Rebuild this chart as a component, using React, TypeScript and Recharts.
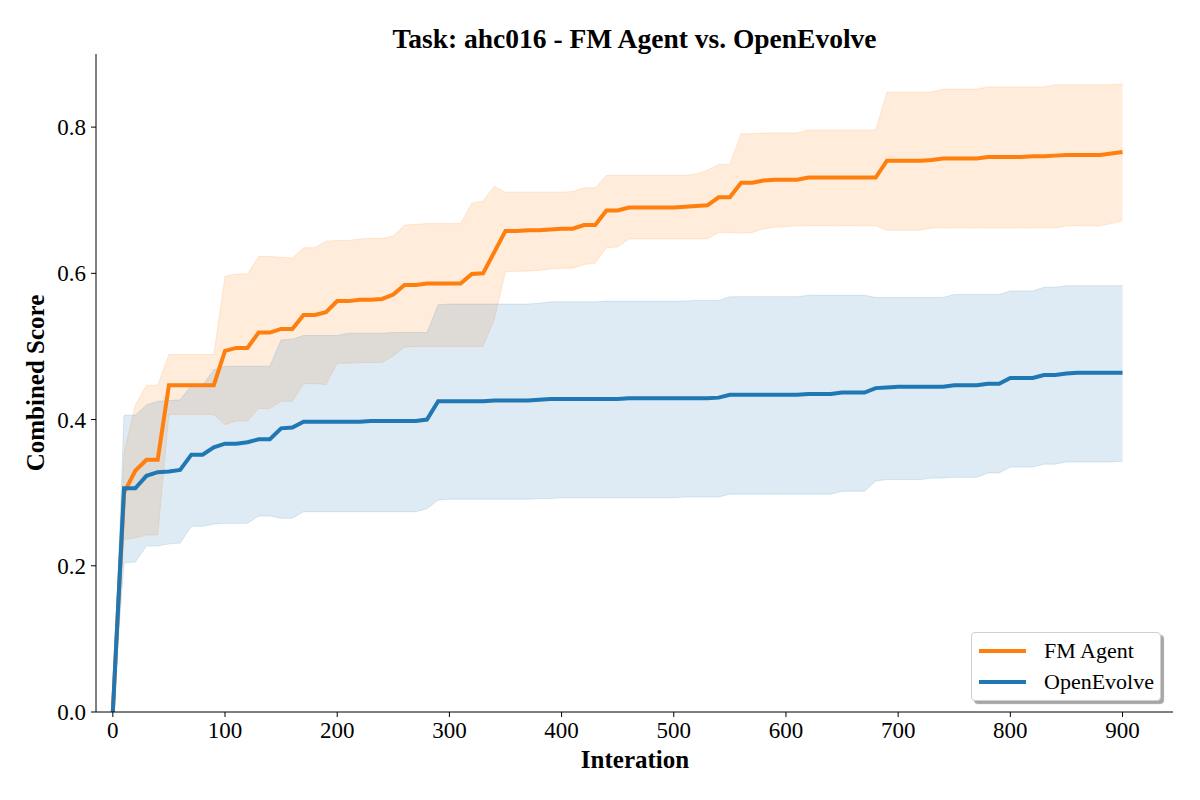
import React from 'react';
import { ComposedChart, Area, Line, XAxis, YAxis, Legend, Label } from 'recharts';

const iterations = [
  0, 10, 20, 30, 40, 50, 60, 70, 80, 90,
  100, 110, 120, 130, 140, 150, 160, 170, 180, 190,
  200, 210, 220, 230, 240, 250, 260, 270, 280, 290,
  300, 310, 320, 330, 340, 350, 360, 370, 380, 390,
  400, 410, 420, 430, 440, 450, 460, 470, 480, 490,
  500, 510, 520, 530, 540, 550, 560, 570, 580, 590,
  600, 610, 620, 630, 640, 650, 660, 670, 680, 690,
  700, 710, 720, 730, 740, 750, 760, 770, 780, 790,
  800, 810, 820, 830, 840, 850, 860, 870, 880, 890,
  900,
];

// FM Agent: mean and band
const fmMean = [
  0, 0.300, 0.330, 0.345, 0.345, 0.447, 0.447, 0.447, 0.447, 0.447,
  0.494, 0.498, 0.498, 0.519, 0.519, 0.524, 0.524, 0.543, 0.543, 0.547,
  0.562, 0.562, 0.564, 0.564, 0.565, 0.571, 0.584, 0.584, 0.586, 0.586,
  0.586, 0.586, 0.599, 0.600, 0.629, 0.658, 0.658, 0.659, 0.659, 0.660,
  0.661, 0.661, 0.666, 0.666, 0.686, 0.686, 0.690, 0.690, 0.690, 0.690,
  0.690, 0.691, 0.692, 0.693, 0.704, 0.704, 0.724, 0.724, 0.727, 0.728,
  0.728, 0.728, 0.731, 0.731, 0.731, 0.731, 0.731, 0.731, 0.731, 0.754,
  0.754, 0.754, 0.754, 0.755, 0.757, 0.757, 0.757, 0.757, 0.759, 0.759,
  0.759, 0.759, 0.760, 0.760, 0.761, 0.762, 0.762, 0.762, 0.762, 0.764,
  0.766,
];
const fmHigh = [
  0, 0.355, 0.420, 0.447, 0.447, 0.489, 0.489, 0.489, 0.489, 0.489,
  0.596, 0.599, 0.599, 0.623, 0.623, 0.622, 0.621, 0.635, 0.635, 0.644,
  0.645, 0.645, 0.647, 0.648, 0.648, 0.651, 0.666, 0.667, 0.668, 0.668,
  0.668, 0.668, 0.696, 0.699, 0.719, 0.711, 0.711, 0.711, 0.711, 0.711,
  0.711, 0.712, 0.717, 0.717, 0.734, 0.734, 0.734, 0.734, 0.734, 0.734,
  0.734, 0.734, 0.736, 0.741, 0.749, 0.749, 0.791, 0.791, 0.792, 0.792,
  0.792, 0.792, 0.796, 0.796, 0.796, 0.796, 0.796, 0.796, 0.796, 0.848,
  0.848, 0.848, 0.848, 0.848, 0.852, 0.852, 0.852, 0.852, 0.855, 0.855,
  0.855, 0.855, 0.855, 0.855, 0.858, 0.858, 0.858, 0.858, 0.858, 0.858,
  0.859,
];
const fmLow = [
  0, 0.236, 0.238, 0.242, 0.242, 0.407, 0.407, 0.407, 0.407, 0.407,
  0.393, 0.398, 0.398, 0.415, 0.415, 0.425, 0.425, 0.449, 0.449, 0.448,
  0.477, 0.477, 0.478, 0.478, 0.478, 0.487, 0.499, 0.500, 0.500, 0.500,
  0.500, 0.500, 0.500, 0.500, 0.537, 0.602, 0.603, 0.603, 0.604, 0.606,
  0.607, 0.607, 0.612, 0.614, 0.635, 0.636, 0.647, 0.647, 0.647, 0.647,
  0.647, 0.647, 0.647, 0.647, 0.656, 0.656, 0.655, 0.656, 0.661, 0.663,
  0.664, 0.665, 0.665, 0.665, 0.665, 0.665, 0.665, 0.665, 0.665, 0.659,
  0.659, 0.659, 0.659, 0.662, 0.662, 0.662, 0.662, 0.662, 0.662, 0.662,
  0.662, 0.662, 0.662, 0.662, 0.662, 0.665, 0.665, 0.665, 0.665, 0.668,
  0.672,
];

// OpenEvolve: mean and band
const oeMean = [
  0, 0.306, 0.306, 0.323, 0.328, 0.329, 0.331, 0.352, 0.352, 0.362,
  0.367, 0.367, 0.369, 0.373, 0.373, 0.388, 0.389, 0.397, 0.397, 0.397,
  0.397, 0.397, 0.397, 0.398, 0.398, 0.398, 0.398, 0.398, 0.400, 0.425,
  0.425, 0.425, 0.425, 0.425, 0.426, 0.426, 0.426, 0.426, 0.427, 0.428,
  0.428, 0.428, 0.428, 0.428, 0.428, 0.428, 0.429, 0.429, 0.429, 0.429,
  0.429, 0.429, 0.429, 0.429, 0.430, 0.434, 0.434, 0.434, 0.434, 0.434,
  0.434, 0.434, 0.435, 0.435, 0.435, 0.437, 0.437, 0.437, 0.443, 0.444,
  0.445, 0.445, 0.445, 0.445, 0.445, 0.447, 0.447, 0.447, 0.449, 0.449,
  0.457, 0.457, 0.457, 0.461, 0.461, 0.463, 0.464, 0.464, 0.464, 0.464,
  0.464,
];
const oeHigh = [
  0, 0.406, 0.406, 0.420, 0.425, 0.426, 0.427, 0.447, 0.447, 0.468,
  0.473, 0.473, 0.473, 0.473, 0.473, 0.509, 0.510, 0.515, 0.515, 0.515,
  0.515, 0.518, 0.518, 0.518, 0.518, 0.519, 0.519, 0.519, 0.519, 0.557,
  0.558, 0.558, 0.558, 0.558, 0.558, 0.558, 0.558, 0.558, 0.559, 0.561,
  0.561, 0.561, 0.561, 0.561, 0.562, 0.562, 0.562, 0.562, 0.562, 0.562,
  0.562, 0.562, 0.563, 0.563, 0.563, 0.568, 0.568, 0.568, 0.568, 0.568,
  0.568, 0.568, 0.570, 0.570, 0.570, 0.570, 0.570, 0.570, 0.567, 0.567,
  0.567, 0.567, 0.567, 0.567, 0.567, 0.571, 0.571, 0.571, 0.571, 0.571,
  0.576, 0.576, 0.576, 0.581, 0.581, 0.583, 0.583, 0.583, 0.583, 0.583,
  0.583,
];
const oeLow = [
  0, 0.204, 0.205, 0.227, 0.227, 0.230, 0.231, 0.254, 0.254, 0.257,
  0.258, 0.258, 0.258, 0.268, 0.268, 0.265, 0.265, 0.274, 0.274, 0.274,
  0.274, 0.274, 0.274, 0.274, 0.274, 0.274, 0.274, 0.274, 0.278, 0.290,
  0.291, 0.291, 0.291, 0.291, 0.291, 0.291, 0.291, 0.291, 0.292, 0.292,
  0.293, 0.293, 0.293, 0.293, 0.293, 0.293, 0.293, 0.293, 0.293, 0.293,
  0.293, 0.294, 0.294, 0.294, 0.294, 0.298, 0.298, 0.298, 0.298, 0.298,
  0.298, 0.298, 0.298, 0.298, 0.298, 0.302, 0.302, 0.302, 0.316, 0.318,
  0.318, 0.318, 0.318, 0.320, 0.320, 0.321, 0.321, 0.321, 0.327, 0.327,
  0.335, 0.335, 0.335, 0.339, 0.339, 0.342, 0.342, 0.342, 0.342, 0.342,
  0.343,
];

const xTicks = [0, 100, 200, 300, 400, 500, 600, 700, 800, 900];
const yTicks = [0, 0.2, 0.4, 0.6, 0.8];

const ORANGE = '#ff7f0e';
const BLUE = '#1f77b4';
const FONT = '"Liberation Serif", "Times New Roman", serif';

const data = iterations.map((it, i) => ({
  iteration: it,
  fmMean: fmMean[i],
  fmBand: [fmLow[i], fmHigh[i]],
  oeMean: oeMean[i],
  oeBand: [oeLow[i], oeHigh[i]],
}));

const legendItems = [
  { name: 'FM Agent', color: ORANGE },
  { name: 'OpenEvolve', color: BLUE },
];

const LegendBox = () => (
  <div
    style={{
      width: 190,
      height: 69,
      background: '#fff',
      border: '1px solid #d0d0d0',
      borderRadius: 4,
      boxShadow: '3px 3px 1px rgba(0,0,0,0.35)',
      boxSizing: 'border-box',
      padding: '2px 0 0 7px',
      fontFamily: FONT,
      fontSize: 22,
      color: '#000',
    }}
  >
    {legendItems.map((item) => (
      <div key={item.name} style={{ display: 'flex', alignItems: 'center', height: 31 }}>
        <span style={{ display: 'inline-block', width: 47, height: 4, background: item.color }} />
        <span style={{ marginLeft: 18 }}>{item.name}</span>
      </div>
    ))}
  </div>
);

const App: React.FC = () => {
  const tickStyle = { fontSize: 23, fill: '#000', fontFamily: FONT };
  return (
    <div style={{ position: 'absolute', left: 0, top: 0, width: 1200, height: 800, background: '#fff' }}>
      <div
        style={{
          position: 'absolute',
          left: 96,
          top: 25,
          width: 1077,
          textAlign: 'center',
          fontFamily: FONT,
          fontWeight: 'bold',
          fontSize: 27.5,
          lineHeight: '28px',
          color: '#000',
        }}
      >
        Task: ahc016 - FM Agent vs. OpenEvolve
      </div>
      <ComposedChart width={1200} height={800} data={data} margin={{ top: 54, right: 27, bottom: 0, left: 0 }}>
        <XAxis
          dataKey="iteration"
          type="number"
          domain={[-15, 945]}
          ticks={xTicks}
          allowDataOverflow
          height={88}
          tickSize={5}
          tickMargin={5}
          tick={tickStyle}
          stroke="#000"
        >
          <Label
            content={() => (
              <text x={635} y={768} textAnchor="middle" fontFamily={FONT} fontWeight="bold" fontSize={25} fill="#000">
                Interation
              </text>
            )}
          />
        </XAxis>
        <YAxis
          type="number"
          domain={[0, 0.9]}
          ticks={yTicks}
          allowDataOverflow
          width={96}
          tickSize={5}
          tickMargin={5}
          tick={tickStyle}
          tickFormatter={(v: number) => v.toFixed(1)}
          stroke="#000"
        >
          <Label
            content={() => (
              <text
                x={35}
                y={383}
                transform="rotate(-90 35 383)"
                textAnchor="middle"
                dominantBaseline="central"
                fontFamily={FONT}
                fontWeight="bold"
                fontSize={25}
                fill="#000"
              >
                Combined Score
              </text>
            )}
          />
        </YAxis>
        <Legend
          layout="horizontal"
          verticalAlign="middle"
          align="center"
          content={() => <LegendBox />}
          wrapperStyle={{ left: 971, top: 632, width: 192, height: 70 }}
        />
        <Area
          dataKey="fmBand"
          type="linear"
          fill={ORANGE}
          fillOpacity={0.15}
          stroke={ORANGE}
          strokeOpacity={0.15}
          strokeWidth={1}
          isAnimationActive={false}
          activeDot={false}
          legendType="none"
        />
        <Area
          dataKey="oeBand"
          type="linear"
          fill={BLUE}
          fillOpacity={0.15}
          stroke={BLUE}
          strokeOpacity={0.15}
          strokeWidth={1}
          isAnimationActive={false}
          activeDot={false}
          legendType="none"
        />
        <Line
          dataKey="fmMean"
          name="FM Agent"
          type="linear"
          stroke={ORANGE}
          strokeWidth={4}
          dot={false}
          activeDot={false}
          isAnimationActive={false}
        />
        <Line
          dataKey="oeMean"
          name="OpenEvolve"
          type="linear"
          stroke={BLUE}
          strokeWidth={4}
          dot={false}
          activeDot={false}
          isAnimationActive={false}
        />
      </ComposedChart>
    </div>
  );
};

export default App;
